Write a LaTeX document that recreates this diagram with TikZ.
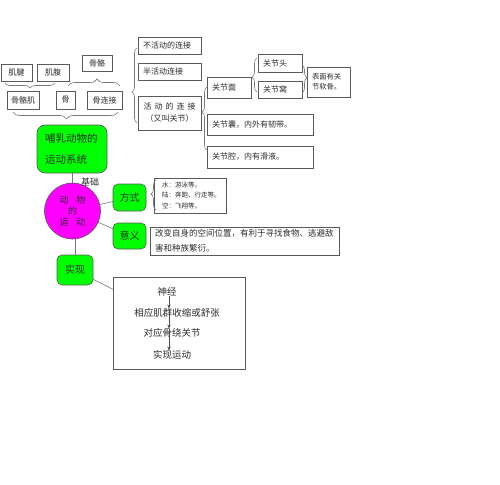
\documentclass[tikz,border=0pt]{standalone}
\usepackage{fontspec}
\setmainfont{Liberation Serif}
\newfontfamily\cjk{Noto Sans CJK SC}
\usetikzlibrary{decorations.pathreplacing,arrows.meta}
\definecolor{gfill}{RGB}{0,255,0}
\definecolor{mfill}{RGB}{255,0,255}
\definecolor{edge}{RGB}{90,90,90}
\definecolor{lin}{RGB}{120,120,120}
\definecolor{txt}{RGB}{45,45,45}
\begin{document}
\begin{tikzpicture}[x=1pt,y=-1pt,
  every node/.style={inner sep=0pt,outer sep=0pt,text=txt},
  box/.style={draw=edge,line width=0.6pt,fill=white,font=\cjk\fontsize{8}{12}\selectfont,align=center},
  lbox/.style 2 args={draw=edge,line width=0.6pt,fill=white,align=left,inner xsep=#2,text width=#1-2*#2,font=\cjk\fontsize{8}{12}\selectfont},
  gbox/.style={draw=edge,line width=0.6pt,fill=gfill,rounded corners=5pt,font=\cjk\fontsize{10}{12}\selectfont,align=center},
  brc/.style={draw=lin,line width=0.6pt,decorate,decoration={brace,amplitude=5pt,aspect=#1}},
  conn/.style={draw=lin,line width=0.6pt},
  arr/.style={draw=black!70,line width=0.6pt,-{Stealth[length=4pt,width=3.4pt]}},
  step text/.style={font=\cjk\fontsize{9.5}{11}\selectfont}
]
\useasboundingbox (0,0) rectangle (500,484);
\fill[white] (0,0) rectangle (500,484);

% top-left boxes
\node[box,minimum width=31pt,minimum height=17pt] (jijian) at (16.5,72.5) {肌腱};
\node[box,minimum width=32pt,minimum height=17pt] (jifu) at (53,72.5) {肌腹};
\node[box,minimum width=30pt,minimum height=16pt] (guge) at (97,63) {骨骼};
\node[box,minimum width=32pt,minimum height=18pt] (gugeji) at (23,100) {骨骼肌};
\node[box,minimum width=19pt,minimum height=18pt] (gu) at (65.5,100) {骨};
\node[box,minimum width=35pt,minimum height=18pt] (gulj) at (104.5,100) {骨连接};

% joint types
\node[lbox={63pt}{5pt},minimum height=17pt] (bhd) at (169.5,45.5) {不活动的连接};
\node[lbox={63pt}{5pt},minimum height=17pt] (bhd2) at (169.5,71.5) {半活动连接};
\node[box,minimum width=63pt,minimum height=34pt] (hd) at (169.5,113) {活\hspace{3pt}动\hspace{3pt}的\hspace{3pt}连\hspace{3pt}接\\（又叫关节）};

\node[lbox={44pt}{5pt},minimum height=21pt] (gjm) at (229,87.5) {关节面};
\node[lbox={44pt}{5pt},minimum height=18pt] (gjt) at (280,63) {关节头};
\node[lbox={44pt}{5pt},minimum height=17pt] (gjw) at (280,89.5) {关节窝};
\node[lbox={43pt}{5pt},minimum height=30pt,font=\cjk\fontsize{7.3}{10}\selectfont] (bmy) at (328.5,82) {表面有关\\节软骨。};
\node[lbox={106pt}{5pt},minimum height=21pt] (gjn) at (260,124.5) {关节囊，内外有韧带。};
\node[lbox={106pt}{5pt},minimum height=22pt] (gjq) at (260,157) {关节腔，内有滑液。};

% braces (coordinates)
\coordinate (b1s) at (55,83);  \coordinate (b1e) at (5,83);
\coordinate (b2s) at (68,86);  \coordinate (b2e) at (120,86);
\coordinate (b3s) at (118,112); \coordinate (b3e) at (13,112);
\coordinate (b4s) at (137,123); \coordinate (b4e) at (137,48);
\coordinate (b5s) at (207,150); \coordinate (b5e) at (207,87);
\coordinate (b6s) at (257,92);  \coordinate (b6e) at (257,58);
\coordinate (b7s) at (302,65);  \coordinate (b7e) at (302,93);
\coordinate (b8s) at (156,210); \coordinate (b8e) at (156,180);
\draw[brc=0.5] (b1s) -- (b1e);
\draw[brc=0.56,decoration={amplitude=7pt}] (b2s) -- (b2e);
\draw[brc=0.49,decoration={amplitude=7pt}] (b3s) -- (b3e);
\draw[brc=0.41] (b4s) -- (b4e);
\draw[brc=0.6] (b5s) -- (b5e);
\draw[brc=0.44] (b6s) -- (b6e);
\draw[brc=0.46] (b7s) -- (b7e);

% central part
\node[gbox,rounded corners=8pt,minimum width=70pt,minimum height=48pt,align=left,text width=54pt,inner xsep=8pt,font=\cjk\fontsize{10.5}{21}\selectfont] (msys) at (72,149) {哺乳动物的\\运动系统};
\node[circle,draw=edge,line width=0.6pt,fill=mfill,minimum size=56pt,font=\cjk\fontsize{9}{11}\selectfont,align=center] (circ) at (72.5,211) {动\hspace{8pt}物\\的\\运\hspace{8pt}动};
\node[font=\cjk\fontsize{9}{11}\selectfont] (jc) at (90,182) {基础};
\node[gbox,minimum width=33pt,minimum height=27pt] (fs) at (129.5,197.5) {方式};
\node[gbox,minimum width=33pt,minimum height=26pt] (yy) at (129.5,236) {意义};
\node[gbox,minimum width=36pt,minimum height=30pt] (sx) at (75,270) {实现};

\node[lbox={72pt}{8pt},minimum height=35pt,font=\cjk\fontsize{6.5}{10.5}\selectfont] (fst) at (190,195.5) {水：游泳等。\\陆：奔跑、行走等。\\空：飞翔等。};
\draw[brc=0.53] (b8s) -- (b8e);
\node[lbox={189pt}{5pt},minimum height=28pt,font=\cjk\fontsize{8.5}{15}\selectfont] (yyt) at (244.5,241) {改变自身的空间位置，有利于寻找食物、逃避敌\\害和种族繁衍。};

\node[draw=edge,line width=0.6pt,fill=white,minimum width=132pt,minimum height=92pt] (big) at (179,323) {};
\node[step text] (n1) at (167,292) {神经};
\node[step text] (n2) at (177,313) {相应肌群收缩或舒张};
\node[step text] (n3) at (172,333) {对应骨绕关节};
\node[step text] (n4) at (172,355) {实现运动};
\coordinate (ax) at (169,320);
\draw[arr] (ax |- n1.south) -- (ax |- n2.north);
\draw[arr] (ax |- n2.north) -- (ax |- n3.north);
\draw[arr] (ax |- n3.north) -- (ax |- n4.north);

% connectors
\draw[conn] (msys.south -| circ.north) -- (circ.north);
\draw[conn] (circ) -- (fs);
\draw[conn] (circ) -- (yy);
\draw[conn] (circ.south -| sx.north) -- (sx.north);
\draw[conn] (sx) -- (big);
\end{tikzpicture}
\end{document}
